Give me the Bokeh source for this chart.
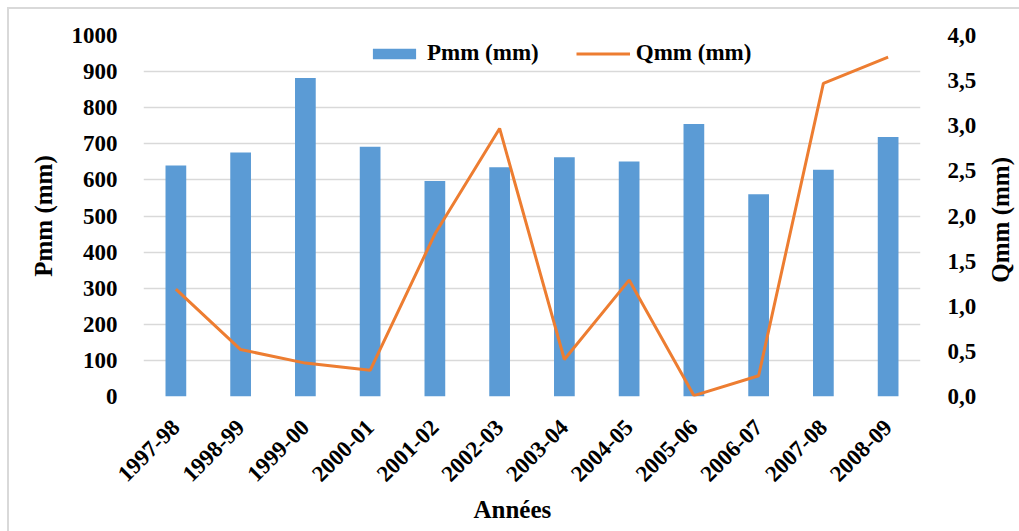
import math
from bokeh.plotting import figure
from bokeh.layouts import row
from bokeh.models import (ColumnDataSource, FactorRange, Range1d, LinearAxis,
                          FixedTicker, CustomJSTickFormatter, Legend, LegendItem,
                          Title, Div)
from bokeh.embed import file_html
from bokeh.resources import INLINE

# Hydrological years, annual rainfall Pmm and runoff depth Qmm
annees = ["1997-98", "1998-99", "1999-00", "2000-01", "2001-02", "2002-03",
          "2003-04", "2004-05", "2005-06", "2006-07", "2007-08", "2008-09"]
pmm = [640, 676, 882, 692, 597, 635, 663, 651, 755, 560, 628, 719]
qmm = [1.19, 0.52, 0.37, 0.29, 1.80, 2.97, 0.41, 1.29, 0.01, 0.23, 3.47, 3.76]

p_ticks = [0, 100, 200, 300, 400, 500, 600, 700, 800, 900, 1000]
q_ticks = [0, 0.5, 1.0, 1.5, 2.0, 2.5, 3.0, 3.5, 4.0]

FONT = "'Liberation Serif', 'Times New Roman', serif"
BLUE = "#5B9BD5"
ORANGE = "#ED7D31"
GRID = "#D9D9D9"

src = ColumnDataSource(data=dict(annee=annees, pmm=pmm, qmm=qmm))

p = figure(x_range=FactorRange(*annees, range_padding=0),
           y_range=Range1d(0, 1000),
           width=970, height=522,
           output_backend="svg", toolbar_location=None,
           min_border_left=134, min_border_right=58,
           min_border_top=26, min_border_bottom=135)
p.outline_line_color = None
p.extra_y_ranges = {"q": Range1d(0, 4)}

bars = p.vbar(x="annee", top="pmm", width=0.32, source=src,
              fill_color=BLUE, line_color=None)
line = p.line(x="annee", y="qmm", source=src, y_range_name="q",
              line_color=ORANGE, line_width=3)

# left axis: Pmm
yax = p.yaxis[0]
yax.ticker = FixedTicker(ticks=p_ticks)
yax.axis_label = "Pmm (mm)"

# right axis: Qmm with comma decimals
qax = LinearAxis(y_range_name="q",
                 ticker=FixedTicker(ticks=q_ticks),
                 formatter=CustomJSTickFormatter(code="return tick.toFixed(1).replace('.', ',');"))
p.add_layout(qax, "right")

xax = p.xaxis[0]
xax.major_label_orientation = math.pi / 4

for ax in [yax, qax, xax]:
    ax.axis_line_color = None
    ax.major_tick_line_color = None
    ax.minor_tick_line_color = None
    ax.major_label_text_font = FONT
    ax.major_label_text_font_style = "bold"
    ax.major_label_text_font_size = "23px"
    ax.major_label_text_color = "black"
    ax.axis_label_text_font = FONT
    ax.axis_label_text_font_style = "bold"
    ax.axis_label_text_font_size = "25px"
    ax.axis_label_text_color = "black"

yax.major_label_standoff = 20
qax.major_label_standoff = 21
xax.major_label_standoff = 21
yax.axis_label_standoff = 12

# x-axis title
p.add_layout(Title(text="Années", align="left", offset=330, standoff=4,
                   text_font=FONT, text_font_style="bold",
                   text_font_size="25px", text_color="black"), "below")

p.xgrid.grid_line_color = None
p.ygrid.ticker = FixedTicker(ticks=p_ticks)
p.ygrid.grid_line_color = GRID
p.ygrid.grid_line_width = 1.6

legend = Legend(items=[LegendItem(label="Pmm (mm)", renderers=[bars]),
                       LegendItem(label="Qmm (mm)", renderers=[line])],
                orientation="horizontal", location=(224, 330),
                padding=0, margin=0, spacing=37,
                glyph_width=54, glyph_height=13, label_standoff=6,
                border_line_color=None, background_fill_alpha=0,
                label_text_font=FONT, label_text_font_style="bold",
                label_text_font_size="23px", label_text_color="black")
p.add_layout(legend, "center")

# right-hand axis title, reading bottom to top like the left one
q_title = Div(
    text=("<div style=\"width:33px;height:412px;display:flex;align-items:center;"
          "justify-content:center;\">"
          "<span style=\"writing-mode:vertical-rl;transform:rotate(180deg);"
          "font-family:'Liberation Serif','Times New Roman',serif;font-weight:bold;"
          "font-size:25px;line-height:25px;color:black;white-space:nowrap;\">"
          "Qmm (mm)</span></div>"),
    width=40, height=522)

layout = row(p, q_title, spacing=0)
layout.styles = {"margin-left": "7px", "margin-top": "7px",
                 "border-left": "2px solid #D9D9D9", "border-top": "2px solid #D9D9D9"}

open("out.html", "w").write(file_html(layout, INLINE))
